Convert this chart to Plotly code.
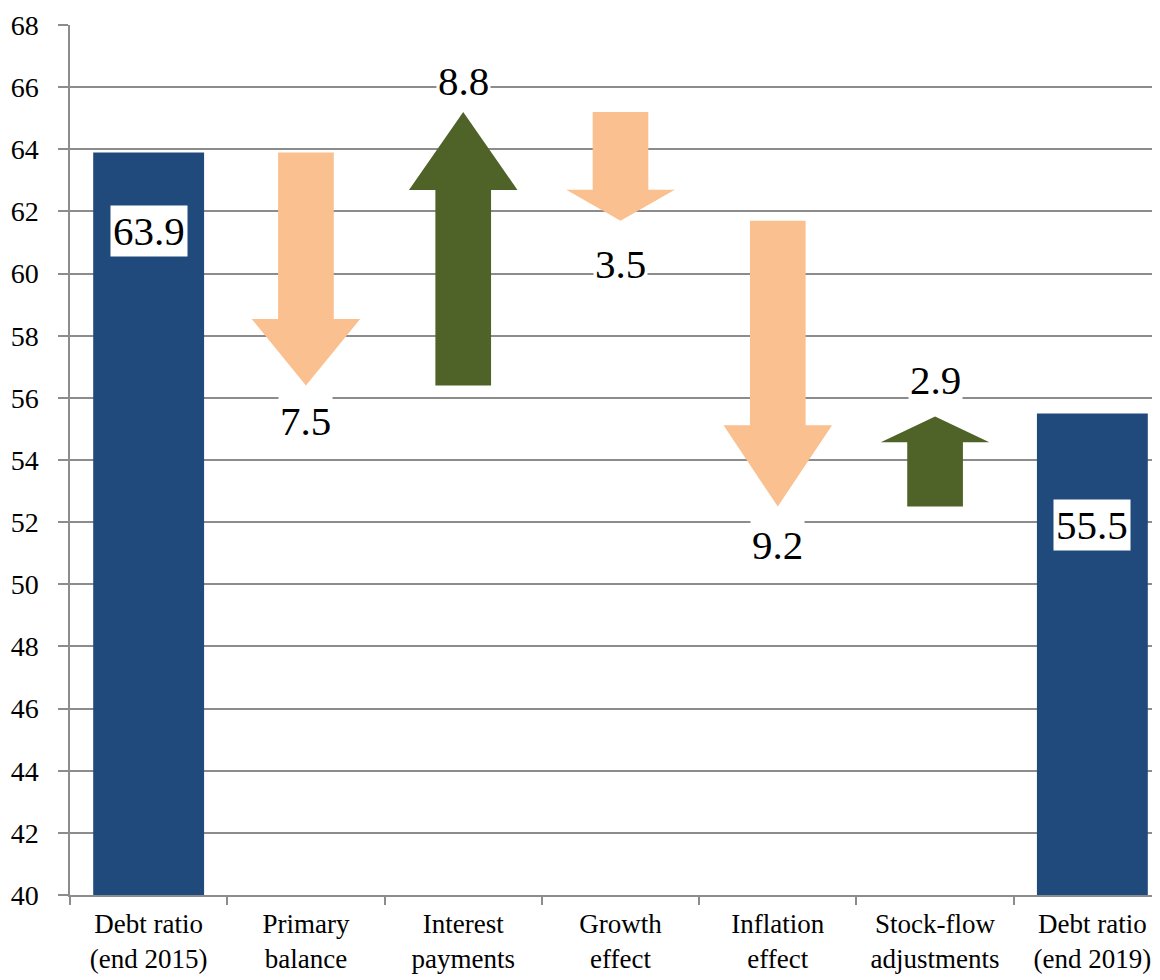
import plotly.graph_objects as go

# data
categories = ["Debt ratio<br>(end 2015)", "Primary<br>balance", "Interest<br>payments",
              "Growth<br>effect", "Inflation<br>effect", "Stock-flow<br>adjustments",
              "Debt ratio<br>(end 2019)"]
start_value = 63.9
end_value = 55.5
changes = [-7.5, 8.8, -3.5, -9.2, 2.9]
y_ticks = list(range(40, 69, 2))

BLUE = "#204a7c"
PEACH = "#fac090"
GREEN = "#4f6228"
GRID = "#8c8c8c"
FONT = "Liberation Serif"


def arrow_path(center, y_from, y_to):
    """Polygon for a block arrow from y_from to y_to at a category position."""
    shaft = 0.177
    head = 0.345
    head_len = 0.285 * abs(y_to - y_from)
    base = y_to + head_len if y_to < y_from else y_to - head_len
    xs = [center - shaft, center + shaft, center + shaft, center + head,
          center, center - head, center - shaft, center - shaft]
    ys = [y_from, y_from, base, base, y_to, base, base, y_from]
    return xs, ys


fig = go.Figure()

# start / end bars
fig.add_trace(go.Bar(
    x=[0, len(categories) - 1],
    y=[start_value, end_value],
    width=0.705,
    marker=dict(color=BLUE, line=dict(width=0)),
    hoverinfo="skip",
))

annotations = []
label_font = dict(family=FONT, size=41, color="black")

# arrows for each contribution
level = start_value
label_shift = [-36, 31, -43, -38, 37]
for i, delta in enumerate(changes):
    pos = i + 1
    new_level = level + delta
    xs, ys = arrow_path(pos, level, new_level)
    fig.add_trace(go.Scatter(
        x=xs, y=ys, mode="lines", fill="toself",
        fillcolor=GREEN if delta > 0 else PEACH,
        line=dict(width=0), hoverinfo="skip",
    ))
    annotations.append(dict(
        x=pos, y=new_level, xref="x", yref="y",
        text=f"{abs(delta):.1f}", showarrow=False,
        yshift=label_shift[i], font=label_font,
        bgcolor="white", borderpad=1,
    ))
    level = new_level

# labels inside the debt ratio bars
for pos, val, shift in [(0, start_value, -79), (len(categories) - 1, end_value, -112)]:
    annotations.append(dict(
        x=pos, y=val, xref="x", yref="y",
        text=f"{val:.1f}", showarrow=False, yshift=shift,
        font=label_font, bgcolor="white", borderpad=2,
    ))

# page body adds an 8px margin, so the figure is a bit smaller than the window
fig.update_layout(
    width=1152, height=972,
    margin=dict(l=62, r=0, t=17, b=85),
    paper_bgcolor="white", plot_bgcolor="white",
    showlegend=False,
    annotations=annotations,
    font=dict(family=FONT, size=28, color="black"),
)

fig.update_yaxes(
    range=[40, 68], tickvals=y_ticks, automargin=False,
    showgrid=True, gridcolor=GRID, gridwidth=1.5,
    showline=True, linecolor=GRID, linewidth=1.5,
    ticks="outside", ticklen=10, tickcolor=GRID, tickwidth=1.5,
    ticklabelstandoff=14,
    tickfont=dict(family=FONT, size=28), zeroline=False,
)
fig.update_xaxes(
    range=[-0.5, 6.43], automargin=False,
    tickvals=list(range(len(categories))), ticktext=categories,
    ticks="", showgrid=False,
    showline=True, linecolor=GRID, linewidth=1.5,
    ticklabelstandoff=4,
    tickfont=dict(family=FONT, size=27), zeroline=False,
    minor=dict(tickvals=[i - 0.5 for i in range(len(categories) + 1)],
               ticks="outside", ticklen=8, tickcolor=GRID, tickwidth=1.5,
               showgrid=False),
)

fig.write_html("out.html")
